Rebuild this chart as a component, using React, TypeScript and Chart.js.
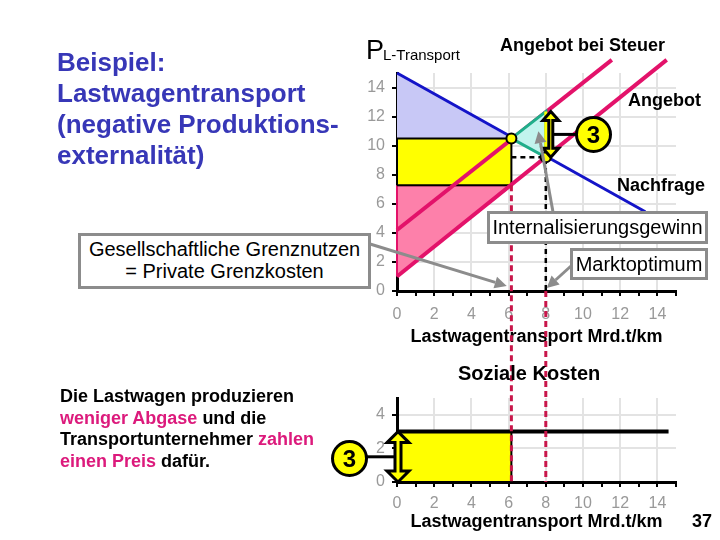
import React, { useEffect, useRef } from 'react';
import { Chart, registerables } from 'chart.js';
Chart.register(...registerables);

const FONT = "'Liberation Sans', Arial, Helvetica, sans-serif";

// ---- tick labels ----
const xTickLabels = ['0', '2', '4', '6', '8', '10', '12', '14'];
const yTickLabelsTop = ['0', '2', '4', '6', '8', '10', '12', '14'];
const yTickLabelsBottom = ['0', '2', '4'];

// ---- top chart: market ----
const demandQ = [0, 13.35];
const demandP = [15, 5.45];
const supplyQ = [0, 14.5];
const supplyP = [1, 15.9];
const taxSupplyQ = [0, 11.55];
const taxSupplyP = [4.2, 15.9];

const qTax = 6.15; // quantity with tax
const pConsumer = 10.5; // price paid with tax
const pProducer = 7.27; // price received with tax
const qOpt = 8; // market optimum quantity
const pOpt = 9.2; // market optimum price
const pTaxSupplyAtOpt = 12.35;

// ---- bottom chart: social costs ----
const socialCost = 3;
const socialCostEndQ = 14.6;

// ---- annotation targets (data coordinates) ----
const arrowGesellschaftTarget = [5.9, 0.35];
const arrowInternTarget = [7.6, 11.0];
const arrowMarktTarget = [8.05, 0.2];

const GRID = '#e3e3e3';
const TICK_GREY = '#999999';
const MAGENTA = '#e3126a';
const RED_DASH = '#c8164a';
const GREY_ARROW = '#8c8c8c';
const CLEAR = 'rgba(0,0,0,0)';

const pts = (xs: number[], ys: number[]) => xs.map((x, i) => ({ x, y: ys[i] }));

function greyArrow(ctx: CanvasRenderingContext2D, x1: number, y1: number, x2: number, y2: number) {
  const ang = Math.atan2(y2 - y1, x2 - x1);
  const hl = 12, hw = 6;
  const bx = x2 - hl * Math.cos(ang), by = y2 - hl * Math.sin(ang);
  ctx.save();
  ctx.strokeStyle = GREY_ARROW;
  ctx.fillStyle = GREY_ARROW;
  ctx.lineWidth = 3;
  ctx.beginPath();
  ctx.moveTo(x1, y1);
  ctx.lineTo(bx, by);
  ctx.stroke();
  ctx.beginPath();
  ctx.moveTo(x2, y2);
  ctx.lineTo(bx + hw * Math.sin(ang), by - hw * Math.cos(ang));
  ctx.lineTo(bx - hw * Math.sin(ang), by + hw * Math.cos(ang));
  ctx.closePath();
  ctx.fill();
  ctx.restore();
}

function blockDoubleArrow(ctx: CanvasRenderingContext2D, x: number, yTop: number, yBot: number, shaft: number, head: number, hl: number) {
  ctx.save();
  ctx.beginPath();
  ctx.moveTo(x, yTop);
  ctx.lineTo(x + head, yTop + hl);
  ctx.lineTo(x + shaft, yTop + hl);
  ctx.lineTo(x + shaft, yBot - hl);
  ctx.lineTo(x + head, yBot - hl);
  ctx.lineTo(x, yBot);
  ctx.lineTo(x - head, yBot - hl);
  ctx.lineTo(x - shaft, yBot - hl);
  ctx.lineTo(x - shaft, yTop + hl);
  ctx.lineTo(x - head, yTop + hl);
  ctx.closePath();
  ctx.fillStyle = '#ffff00';
  ctx.fill();
  ctx.lineWidth = 3;
  ctx.lineJoin = 'miter';
  ctx.strokeStyle = '#000';
  ctx.stroke();
  ctx.restore();
}

const tickFont = { family: FONT, size: 16 };
const titleFont = { family: FONT, size: 18, weight: 'bold' as const };

function xScale(height: number, pad: number) {
  return {
    type: 'linear' as const,
    min: 0,
    max: 15,
    afterFit: (s: any) => { s.height = height; },
    border: { color: '#000', width: 3 },
    grid: {
      color: (c: any) => {
        const v = c.tick ? c.tick.value : -1;
        return v > 0 && v < 15 && v % 2 === 0 ? GRID : CLEAR;
      },
      lineWidth: 2,
      tickLength: 5,
      tickColor: '#000',
      tickWidth: 2,
    },
    ticks: {
      stepSize: 1,
      autoSkip: false,
      maxRotation: 0,
      padding: pad,
      color: TICK_GREY,
      font: tickFont,
      callback: (v: any) => (xTickLabels.includes(String(v)) ? String(v) : ''),
    },
    title: {
      display: true,
      text: 'Lastwagentransport Mrd.t/km',
      color: '#000',
      font: titleFont,
      padding: { top: 0, bottom: 3 },
    },
  };
}

function yScale(max: number, labels: string[]) {
  return {
    type: 'linear' as const,
    min: 0,
    max,
    afterFit: (s: any) => { s.width = 40; },
    border: { color: '#000', width: 3 },
    grid: {
      color: (c: any) => {
        const v = c.tick ? c.tick.value : -1;
        return v > 0 && v < max ? GRID : CLEAR;
      },
      lineWidth: 2,
      tickLength: 5,
      tickColor: '#000',
      tickWidth: 2,
    },
    ticks: {
      stepSize: 2,
      includeBounds: false,
      autoSkip: false,
      padding: 7,
      color: TICK_GREY,
      font: tickFont,
      callback: (v: any) => (labels.includes(String(v)) ? String(v) : ''),
    },
  };
}

function lineDs(data: any[], color: string, width: number, order: number, extra: any = {}) {
  return { data, borderColor: color, borderWidth: width, pointRadius: 0, fill: false, clip: false, order, ...extra };
}

function shapeDs(data: any[], bg: string, border: string, width: number, order: number) {
  return { data, backgroundColor: bg, borderColor: border, borderWidth: width, pointRadius: 0, fill: 'shape', clip: false, order };
}

export default function App() {
  const topRef = useRef<HTMLCanvasElement>(null);
  const botRef = useRef<HTMLCanvasElement>(null);

  useEffect(() => {
    const topPlugin = {
      id: 'topAnnotations',
      afterDatasetsDraw(chart: any) {
        const ctx = chart.ctx as CanvasRenderingContext2D;
        const xs = chart.scales.x, ys = chart.scales.y;
        const bx = xs.getPixelForValue(qOpt) + 5;
        const yT = ys.getPixelForValue(pTaxSupplyAtOpt);
        const yB = ys.getPixelForValue(pOpt);
        ctx.save();
        ctx.strokeStyle = '#000';
        ctx.lineWidth = 3;
        ctx.beginPath();
        ctx.moveTo(bx, (yT + yB) / 2);
        ctx.lineTo(576, (yT + yB) / 2);
        ctx.stroke();
        ctx.restore();
        blockDoubleArrow(ctx, bx, yT, yB, 2, 8, 9);
        greyArrow(ctx, 370, 244, xs.getPixelForValue(arrowGesellschaftTarget[0]), ys.getPixelForValue(arrowGesellschaftTarget[1]));
        greyArrow(ctx, 553, 212, xs.getPixelForValue(arrowInternTarget[0]), ys.getPixelForValue(arrowInternTarget[1]));
        greyArrow(ctx, 571, 266, xs.getPixelForValue(arrowMarktTarget[0]), ys.getPixelForValue(arrowMarktTarget[1]));
      },
    };

    const top = new Chart(topRef.current!, {
      type: 'line',
      data: {
        datasets: [
          shapeDs([{ x: 0, y: demandP[0] }, { x: qTax, y: pConsumer }, { x: 0, y: pConsumer }], '#c8c8f6', CLEAR, 0, 20),
          shapeDs([{ x: 0, y: supplyP[0] }, { x: qTax, y: pProducer }, { x: 0, y: pProducer }, { x: 0, y: supplyP[0] }], '#fd80aa', MAGENTA, 2, 19),
          shapeDs([{ x: 0, y: pProducer }, { x: qTax, y: pProducer }, { x: qTax, y: pConsumer }, { x: 0, y: pConsumer }, { x: 0, y: pProducer }], '#ffff00', '#000', 2, 18),
          lineDs(pts(demandQ, demandP), '#1414c8', 3, 10),
          lineDs(pts(supplyQ, supplyP), MAGENTA, 4, 9),
          lineDs(pts(taxSupplyQ, taxSupplyP), MAGENTA, 4, 9),
          lineDs([{ x: qTax, y: pOpt }, { x: qOpt, y: pOpt }, { x: qOpt, y: 0 }], '#000', 2.5, 8, { borderDash: [5, 4] }),
          shapeDs([{ x: qTax, y: pConsumer }, { x: qOpt, y: pTaxSupplyAtOpt }, { x: qOpt, y: pOpt }, { x: qTax, y: pConsumer }], '#c2f4ee', '#20ae8a', 3, 6),
          lineDs([{ x: qOpt, y: pOpt }, { x: qOpt, y: pTaxSupplyAtOpt }], '#ffff00', 3, 5),
          {
            data: [{ x: qTax, y: pConsumer }, { x: qOpt, y: pOpt }],
            showLine: false,
            pointRadius: 5,
            pointBackgroundColor: '#ffff00',
            pointBorderColor: '#000',
            pointBorderWidth: 2,
            clip: false,
            order: 1,
          },
        ] as any,
      },
      options: {
        responsive: false,
        animation: false,
        events: [],
        layout: { padding: { left: 357, right: 44, top: 73, bottom: 189 } },
        plugins: { legend: { display: false }, tooltip: { enabled: false } },
        scales: {
          x: xScale(60, 9) as any,
          y: yScale(15, yTickLabelsTop) as any,
        },
      },
      plugins: [topPlugin],
    });

    const botPlugin = {
      id: 'bottomAnnotations',
      afterDatasetsDraw(chart: any) {
        const ctx = chart.ctx as CanvasRenderingContext2D;
        const xs = chart.scales.x, ys = chart.scales.y;
        const tys = top.scales.y;
        ctx.save();
        ctx.strokeStyle = RED_DASH;
        ctx.lineWidth = 3;
        ctx.setLineDash([6, 4]);
        ctx.beginPath();
        ctx.moveTo(xs.getPixelForValue(qTax), tys.getPixelForValue(pProducer));
        ctx.lineTo(xs.getPixelForValue(qTax), ys.getPixelForValue(0));
        ctx.moveTo(xs.getPixelForValue(qOpt), tys.getPixelForValue(0));
        ctx.lineTo(xs.getPixelForValue(qOpt), ys.getPixelForValue(0));
        ctx.stroke();
        ctx.restore();
        const ax = xs.getPixelForValue(0);
        const yT = ys.getPixelForValue(socialCost);
        const yB = ys.getPixelForValue(0);
        ctx.save();
        ctx.strokeStyle = '#000';
        ctx.lineWidth = 3;
        ctx.beginPath();
        ctx.moveTo(367, (yT + yB) / 2);
        ctx.lineTo(ax, (yT + yB) / 2);
        ctx.stroke();
        ctx.restore();
        blockDoubleArrow(ctx, ax + 1, yT, yB, 3, 11, 11);
      },
    };

    const bot = new Chart(botRef.current!, {
      type: 'line',
      data: {
        datasets: [
          shapeDs([{ x: 0, y: 0 }, { x: qTax, y: 0 }, { x: qTax, y: socialCost }, { x: 0, y: socialCost }, { x: 0, y: 0 }], '#ffff00', '#000', 2, 10),
          lineDs([{ x: 0, y: socialCost }, { x: socialCostEndQ, y: socialCost }], '#000', 4, 5),
        ] as any,
      },
      options: {
        responsive: false,
        animation: false,
        events: [],
        layout: { padding: { left: 357, right: 44, top: 398, bottom: 4 } },
        plugins: { legend: { display: false }, tooltip: { enabled: false } },
        scales: {
          x: xScale(54, 7) as any,
          y: yScale(5, yTickLabelsBottom) as any,
        },
      },
      plugins: [botPlugin],
    });

    return () => {
      bot.destroy();
      top.destroy();
    };
  }, []);

  const abs = (s: React.CSSProperties): React.CSSProperties => ({ position: 'absolute', whiteSpace: 'nowrap', ...s });
  const box: React.CSSProperties = {
    position: 'absolute',
    boxSizing: 'border-box',
    border: '3px solid #8c8c8c',
    background: '#fff',
    display: 'flex',
    alignItems: 'center',
    justifyContent: 'center',
    textAlign: 'center',
    fontSize: 20,
    color: '#000',
    whiteSpace: 'nowrap',
  };
  const circle: React.CSSProperties = {
    position: 'absolute',
    boxSizing: 'border-box',
    width: 37,
    height: 37,
    borderRadius: '50%',
    border: '3px solid #000',
    background: '#ffff00',
    display: 'flex',
    alignItems: 'center',
    justifyContent: 'center',
    fontWeight: 'bold',
    fontSize: 24,
    color: '#000',
  };
  const mag: React.CSSProperties = { color: '#dc1a7c' };

  return (
    <div style={{ position: 'absolute', left: 0, top: 0, width: 720, height: 540, overflow: 'hidden', background: '#fff', fontFamily: FONT }}>
      <canvas ref={topRef} width={720} height={540} style={{ position: 'absolute', left: 0, top: 0, width: 720, height: 540 }} />
      <canvas ref={botRef} width={720} height={540} style={{ position: 'absolute', left: 0, top: 0, width: 720, height: 540 }} />

      <div style={abs({ left: 57, top: 47, fontSize: 26, lineHeight: '31px', fontWeight: 'bold', color: '#3737b7' })}>
        Beispiel:<br />Lastwagentransport<br />(negative Produktions-<br />externalität)
      </div>

      <div style={abs({ left: 366, top: 37, fontSize: 27, lineHeight: '27px', color: '#000' })}>P</div>
      <div style={abs({ left: 383, top: 46, fontSize: 15, lineHeight: '18px', color: '#000' })}>L-Transport</div>

      <div style={abs({ left: 500, top: 34, fontSize: 18, lineHeight: '22px', fontWeight: 'bold', color: '#000' })}>Angebot bei Steuer</div>
      <div style={abs({ left: 628, top: 89, fontSize: 18, lineHeight: '22px', fontWeight: 'bold', color: '#000' })}>Angebot</div>
      <div style={abs({ left: 617, top: 174, fontSize: 18, lineHeight: '22px', fontWeight: 'bold', color: '#000' })}>Nachfrage</div>

      <div style={{ ...box, left: 487, top: 211, width: 221, height: 33 }}>Internalisierungsgewinn</div>
      <div style={{ ...box, left: 570, top: 248, width: 138, height: 32 }}>Marktoptimum</div>
      <div style={{ ...box, left: 78, top: 233, width: 293, height: 56, lineHeight: '21.6px', flexDirection: 'column' }}>
        <div>Gesellschaftliche Grenznutzen</div>
        <div>= Private Grenzkosten</div>
      </div>

      <div style={{ ...circle, left: 575, top: 116 }}>3</div>

      <div style={abs({ left: 458, top: 361, fontSize: 20, lineHeight: '24px', fontWeight: 'bold', color: '#000' })}>Soziale Kosten</div>

      <div style={abs({ left: 60, top: 386, fontSize: 18, lineHeight: '21.6px', fontWeight: 'bold', color: '#000' })}>
        Die Lastwagen produzieren<br />
        <span style={mag}>weniger Abgase</span> und die<br />
        Transportunternehmer <span style={mag}>zahlen</span><br />
        <span style={mag}>einen Preis</span> dafür.
      </div>

      <div style={{ ...circle, left: 331, top: 440 }}>3</div>

      <div style={abs({ left: 692, top: 510, fontSize: 18, lineHeight: '22px', fontWeight: 'bold', color: '#000' })}>37</div>
    </div>
  );
}
